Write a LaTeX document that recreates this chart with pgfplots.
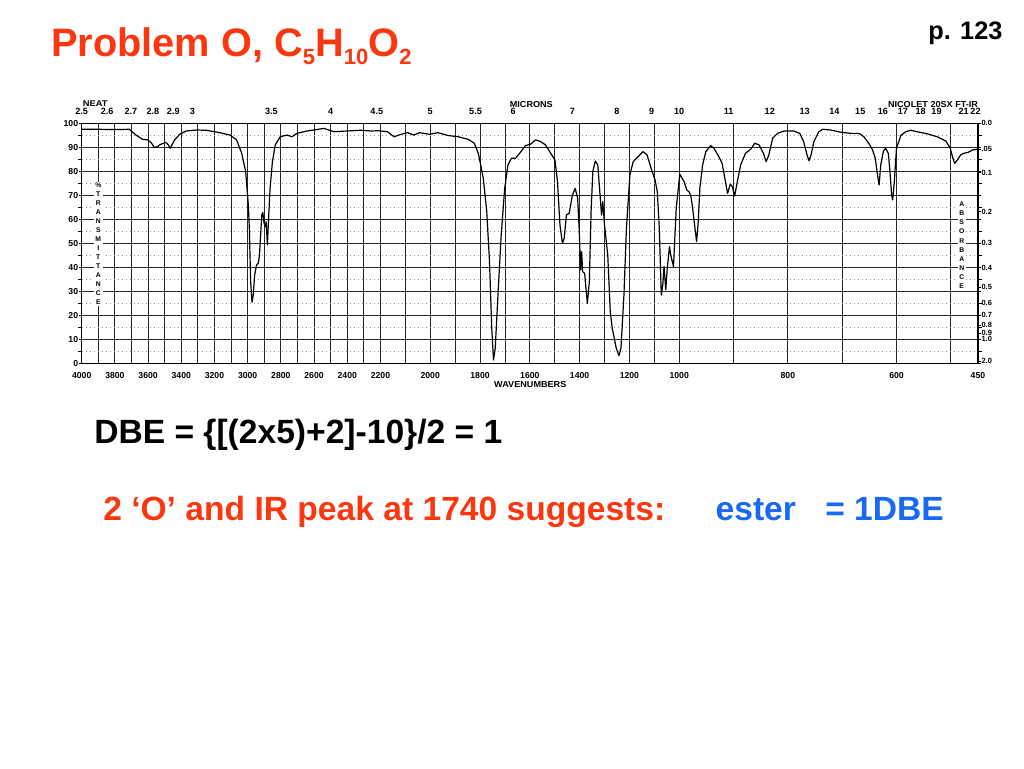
\documentclass[border=0pt]{standalone}
\usepackage{fontspec}
\setmainfont{Liberation Sans}
\usepackage{pgfplots}
\pgfplotsset{compat=1.18}

\definecolor{slidered}{RGB}{250,55,15}
\definecolor{slideblue}{RGB}{25,105,245}

% chart paper: 4000-2200, 2200-1000 and 1000-450 cm-1 each take a third of the width
\pgfplotsset{
  irscale/.style={
    x coord trafo/.code={\pgfmathparse{((##1)>=2200)*(4000-(##1))/1800+((##1)<2200)*((##1)>=1000)*(1+(2200-(##1))/1200)+((##1)<1000)*(2+(1000-(##1))/550)}},
    xmin=4000, xmax=450, ymin=0, ymax=100,
    width=672.2pt, height=180pt, scale only axis,
    at={(61.275pt,-272.475pt)}, anchor=south west,
    /pgf/number format/assume math mode=true,
    tick label style={font=\fontsize{6.5pt}{7pt}\selectfont\bfseries},
  },
}
\newcommand{\sub}[1]{\raisebox{-6.2pt}{\fontsize{16.5pt}{18pt}\selectfont #1}}

\begin{document}
\begin{tikzpicture}
\fill[white] (0,0) rectangle (768pt,-576pt);

\begin{axis}[
    irscale,
    xtick={4000,3900,...,500,450},
    xticklabels={4000,,3800,,3600,,3400,,3200,,3000,,2800,,2600,,2400,,2200,,2000,,1800,,1600,,1400,,1200,,1000,,800,,600,,450},
    ytick={0,10,...,100},
    minor ytick={5,15,...,95},
    grid=major,
    yminorgrids,
    major grid style={black!85, line width=0.6pt},
    minor grid style={black!40, line width=0.5pt, dash pattern=on 0.8pt off 2.2pt},
    axis line style={black, line width=0.8pt},
    xtick style={draw=none},
    ytick style={black, line width=0.6pt},
    tick align=outside,
    major tick length=2pt,
    xticklabel style={anchor=north, inner sep=0pt, yshift=-4.3pt},
    yticklabel style={anchor=east, inner sep=0pt, xshift=-0.5pt},
]
\addplot[black, line width=0.9pt, line join=round] coordinates {
(4000,97.5)(3900,97.5)(3800,97.4)(3713,97.5)(3673,95.1)(3632,93.3)(3602,93.1)
(3580,91.8)(3562,89.9)(3545,90.2)(3531,91)(3495,92.1)(3480,91.2)(3467,89.6)
(3455,91.2)(3440,93.1)(3410,95.4)(3370,96.8)(3309,97.2)(3249,97.1)(3168,96.1)
(3107,95.1)(3067,93.1)(3036,87.5)(3012,79.9)(2996,66)(2990,56.3)(2982,34)
(2974,25.4)(2966,28.5)(2958,36.8)(2946,41)(2936,41.7)(2929,45.1)(2915,61.8)
(2909,62.9)(2901,58.3)(2893,56.9)(2889,59)(2881,49.3)(2875,59)(2865,72.9)
(2851,84)(2834,91)(2804,94.4)(2764,95.1)(2733,94.4)(2703,95.8)(2643,96.8)
(2582,97.4)(2542,97.9)(2481,96.5)(2400,96.8)(2319,97.1)(2259,96.8)(2212,96.9)
(2172,96.5)(2145,94.4)(2118,95.4)(2091,96.1)(2066,95.1)(2043,96.1)(2003,95.4)
(1969,96.1)(1928,94.9)(1888,94.4)(1847,93.3)(1823,91.7)(1807,87.5)(1796,81.9)
(1787,77.1)(1773,63.2)(1762,42.4)(1753,14.6)(1746,1.4)(1739,6.3)(1728,28.5)
(1715,53.5)(1701,72.9)(1688,82.6)(1674,85.4)(1658,85.4)(1638,87.9)(1618,90.7)
(1597,91.3)(1577,93.1)(1557,92.4)(1537,91)(1516,87.5)(1499,84.7)(1489,75.7)
(1479,57.6)(1469,50)(1462,52.1)(1453,61.8)(1442,62.5)(1429,70.1)(1418,72.9)
(1408,68.8)(1402,56.3)(1396,38.9)(1392,46.5)(1388,38.2)(1380,37.5)(1369,25)
(1361,34)(1354,63.2)(1347,79.9)(1337,84.3)(1327,82.6)(1318,70.1)(1312,61.8)
(1307,67.4)(1300,57.6)(1287,45.1)(1277,21.5)(1269,14.6)(1253,6.3)(1242,3.2)
(1234,6.3)(1222,28.5)(1212,56.3)(1198,78.5)(1185,84)(1165,86.1)(1145,88.2)
(1129,86.8)(1111,80.6)(1097,76.4)(1088,71.5)(1080,56.3)(1072,28.5)(1066,32.6)
(1061,40.3)(1054,30.6)(1048,39.6)(1039,48.6)(1034,45.1)(1023,40.3)(1012,64.6)
(999,78.8)(991,75.7)(986,72.2)(982,71.5)(979,70.1)(976,66)(971,56.3)
(968,50.7)(965,59)(962,72.9)(957,82.6)(951,88.2)(942,90.7)(936,89.6)
(927,86.1)(921,83.3)(916,77.1)(911,70.8)(906,74.6)(902,73.6)(898,69.7)
(893,75.7)(887,82.6)(878,87.5)(868,89.3)(861,91.7)(853,91)(845,87.5)
(840,84)(835,86.8)(828,93.8)(819,95.8)(807,96.8)(789,96.8)(778,95.8)
(771,92.4)(765,87.1)(761,84.4)(757,87.1)(752,92.4)(743,96.5)(736,97.5)
(721,97.2)(703,96.3)(684,95.8)(669,95.8)(660,94.4)(650,91.3)(644,88.9)
(639,85.4)(635,78.5)(632,74.3)(629,82.6)(624,88.5)(620,89.6)(615,87.5)
(612,79.9)(609,70.1)(607,68.1)(604,75.7)(600,89.6)(592,94.9)(583,96.5)
(574,97.1)(562,96.5)(543,95.6)(525,94.4)(509,92.6)(501,89.6)(497,86.1)
(493,83.3)(488,84.7)(482,86.8)(476,87.5)(468,87.9)(460,88.9)(451,89.2)
};
\end{axis}

% microns on top, absorbance on the right
\begin{axis}[
    irscale,
    axis x line*=top,
    axis y line*=right,
    axis line style={draw=none},
    xtick={4000,3846.2,3703.7,3571.4,3448.3,3333.3,2857.1,2500,2222.2,2000,1818.2,1666.7,1428.6,1250,1111.1,1000,909.1,833.3,769.2,714.3,666.7,625,588.2,555.6,526.3,476.2,454.5},
    xticklabels={2.5,2.6,2.7,2.8,2.9,3,3.5,4,4.5,5,5.5,6,7,8,9,10,11,12,13,14,15,16,17,18,19,21,22},
    xtick style={draw=none},
    xticklabel style={anchor=south, inner sep=0pt, yshift=4.2pt, font=\fontsize{6.8pt}{7pt}\selectfont\bfseries},
    ytick={100,89.13,79.43,63.10,50.12,39.81,31.62,25.12,19.95,15.85,12.59,10,1},
    yticklabels={0.0,.05,0.1,0.2,0.3,0.4,0.5,0.6,0.7,0.8,0.9,1.0,2.0},
    ytick style={black, line width=0.6pt},
    tick align=outside,
    major tick length=2pt,
    yticklabel style={anchor=west, inner sep=0pt, xshift=0.5pt, font=\fontsize{5.6pt}{6pt}\selectfont\bfseries},
]
\end{axis}

\begin{scope}[x=0.75pt, y=-0.75pt]
\node[anchor=base west, inner sep=0pt, text=slidered, font=\fontsize{29.8pt}{32pt}\selectfont\bfseries]
  at (51,56.7) {Problem O, C\sub{5}H\sub{10}O\sub{2}};
\node[anchor=base west, inner sep=0pt, font=\fontsize{19pt}{21pt}\selectfont\bfseries]
  at (928,39) {p. 123};

\node[anchor=base west, inner sep=0pt, font=\fontsize{6.2pt}{7pt}\selectfont\bfseries] at (82.7,106.7) {\scalebox{1.13}[1]{NEAT}};
\node[anchor=base, inner sep=0pt, font=\fontsize{6.5pt}{7pt}\selectfont\bfseries] at (531.3,107.7) {\scalebox{1.05}[1]{MICRONS}};
\node[anchor=base east, inner sep=0pt, font=\fontsize{6.5pt}{7pt}\selectfont\bfseries] at (978.3,107.7) {\scalebox{1.05}[1]{NICOLET 20SX FT-IR}};
\node[anchor=base, inner sep=0pt, font=\fontsize{6.5pt}{7pt}\selectfont\bfseries] at (530.3,387.7) {\scalebox{1.05}[1]{WAVENUMBERS}};

\node[fill=white, inner sep=1pt, align=center, font=\fontsize{5.1pt}{6.75pt}\selectfont\bfseries]
  at (98.3,243.7) {\%\\T\\R\\A\\N\\S\\M\\I\\T\\T\\A\\N\\C\\E};
\node[fill=white, inner sep=1pt, align=center, font=\fontsize{5.1pt}{6.8pt}\selectfont\bfseries]
  at (961.7,245.2) {A\\B\\S\\O\\R\\B\\A\\N\\C\\E};

\node[anchor=base west, inner sep=0pt, font=\fontsize{25.2pt}{27pt}\selectfont\bfseries]
  at (94,443.3) {DBE = \{[(2x5)+2]-10\}/2 = 1};
\node[anchor=base west, inner sep=0pt, text=slidered, font=\fontsize{25.2pt}{27pt}\selectfont\bfseries]
  at (103,520) {2 ‘O’ and IR peak at 1740 suggests:};
\node[anchor=base west, inner sep=0pt, text=slideblue, font=\fontsize{25.2pt}{27pt}\selectfont\bfseries]
  at (715.4,520) {ester};
\node[anchor=base west, inner sep=0pt, text=slideblue, font=\fontsize{25.2pt}{27pt}\selectfont\bfseries]
  at (825,520) {= 1DBE};
\end{scope}
\end{tikzpicture}
\end{document}
